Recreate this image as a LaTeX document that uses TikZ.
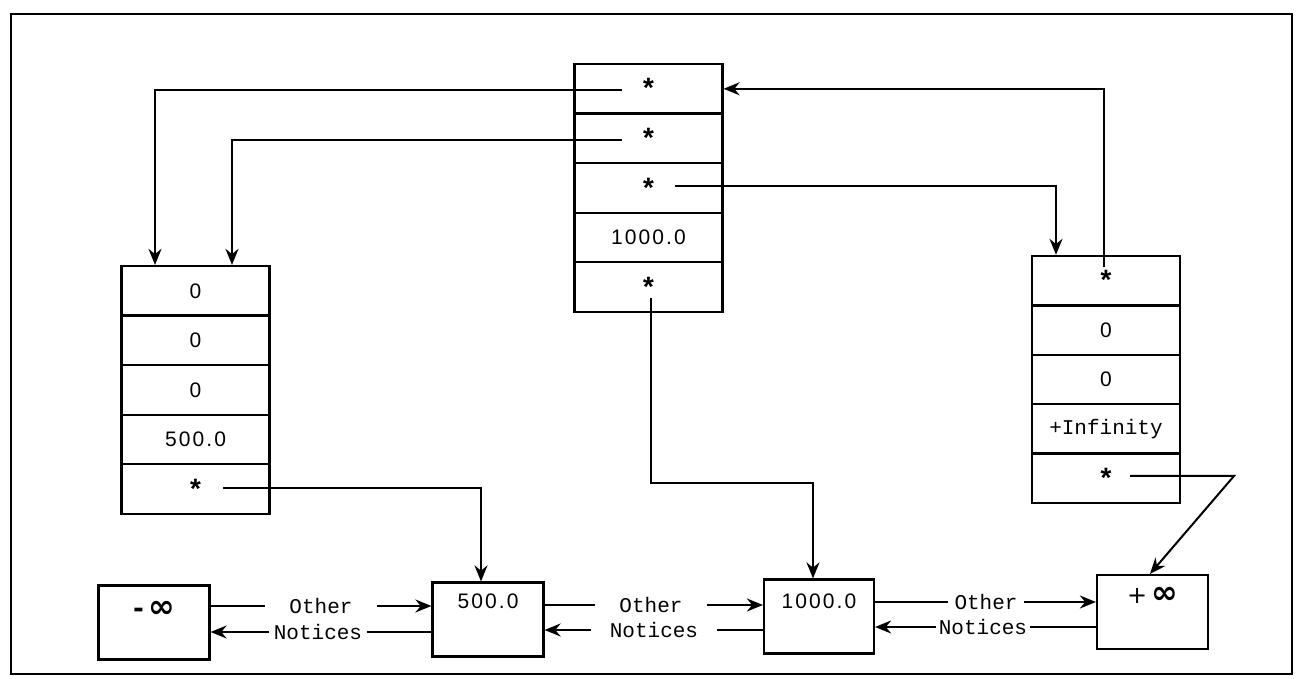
\documentclass[tikz,border=0pt]{standalone}
\usepackage{fontspec}
\usetikzlibrary{arrows.meta,calc}
\newfontfamily\tw{Liberation Mono}
\newfontfamily\nm[LetterSpace=10]{Liberation Sans}
\newfontfamily\djv{DejaVu Sans}
\begin{document}
\begin{tikzpicture}[x=0.5pt,y=-0.5pt,
  cell/.style={draw, line width=1.1pt, minimum width=74pt, minimum height=24.8pt, inner sep=0pt, font=\nm\fontsize{10.5}{12}\selectfont},
  star/.style={cell, font=\tw\bfseries\fontsize{14}{14}\selectfont},
  wcell/.style={cell, font=\tw\fontsize{10.5}{12}\selectfont},
  bbox/.style={draw, line width=1.1pt, inner sep=0pt, minimum width=55.5pt, minimum height=37pt},
  blab/.style={anchor=center, font=\nm\fontsize{10.5}{12}\selectfont},
  arr/.style={-{Stealth[length=8pt,width=6.5pt]}, line width=1pt},
  ln/.style={line width=1pt},
  lbl/.style={font=\tw\fontsize{10.5}{12}\selectfont, inner ysep=0pt}
]
\useasboundingbox (0,0) rectangle (1298,679);
\draw[line width=1.2pt] (11,14) rectangle (1292,674);

% top record
\node[star] (T1) at (648.5,88.8) {*};
\node[star] (T2) at (648.5,138.4) {*};
\node[star] (T3) at (648.5,188) {*};
\node[cell] (T4) at (648.5,237.6) {1000.0};
\node[star] (T5) at (648.5,287.2) {*};

% left record
\node[cell] (L1) at (195.5,290.8) {0};
\node[cell] (L2) at (195.5,340.4) {0};
\node[cell] (L3) at (195.5,390) {0};
\node[cell] (L4) at (195.5,439.6) {500.0};
\node[star] (L5) at (195.5,489.2) {*};

% right record
\node[star] (R1) at (1106,280.7) {*};
\node[cell] (R2) at (1106,330.1) {0};
\node[cell] (R3) at (1106,379.5) {0};
\node[wcell] (R4) at (1106,428.9) {+Infinity};
\node[star] (R5) at (1106,478.3) {*};

% bottom list
\node[bbox, label={[blab,yshift=-12.5pt]north:{{\djv\bfseries\fontsize{13}{14}\selectfont -\,}{\djv\bfseries\fontsize{16}{16}\selectfont ∞}}}] (Km) at (154,622.5) {};
\node[bbox, label={[blab,yshift=-10pt]north:{500.0}}] (K500) at (488,619.5) {};
\node[bbox, minimum width=55pt, label={[blab,yshift=-11.5pt]north:{1000.0}}] (K1000) at (819,616.5) {};
\node[bbox, label={[blab,yshift=-11pt]north:{{\djv\fontsize{12}{12}\selectfont +\,}{\djv\bfseries\fontsize{16}{16}\selectfont ∞}}}] (Kp) at (1152.5,612) {};

% pointer start points
\coordinate (t1s) at (622,90);
\coordinate (t2s) at (622,140);
\coordinate (t3s) at (675,186);
\coordinate (t5s) at (651,298);
\coordinate (bend1) at (651,483);
\coordinate (l5s) at (223,488);
\coordinate (r1s) at (1104,267);
\coordinate (r5s) at (1130,476);
\coordinate (bend2) at (1234,476);

\draw[arr] (t1s) -| ([xshift=-20.25pt]L1.north);
\draw[arr] (t2s) -| ([xshift=18.25pt]L1.north);
\draw[arr] (t3s) -| ([xshift=-25pt]R1.north);
\draw[arr] (r1s) |- (T1.east);
\draw[arr] (t5s) -- (bend1) -| ([xshift=-3pt]K1000.north);
\draw[arr] (l5s) -| ([xshift=-3.5pt]K500.north);
\draw[arr] (r5s) -- (bend2) -- ([xshift=-1.25pt]Kp.north);

% Other / Notices links
\node[lbl, inner xsep=12pt] (o1) at (321,606) {Other};
\node[lbl, inner xsep=2pt] (n1) at (318,632) {Notices};
\node[lbl, inner xsep=12pt] (o2) at (651,605) {Other};
\node[lbl, inner xsep=9pt] (n2) at (654,630) {Notices};
\node[lbl, inner xsep=3pt] (o3) at (986,602) {Other};
\node[lbl, inner xsep=1pt] (n3) at (983,627) {Notices};

\draw[ln] (Km.east |- o1) -- (o1.west);
\draw[arr] (o1.east) -- (K500.west |- o1);
\draw[arr] (n1.west) -- (Km.east |- n1);
\draw[ln] (n1.east) -- (K500.west |- n1);

\draw[ln] (K500.east |- o2) -- (o2.west);
\draw[arr] (o2.east) -- (K1000.west |- o2);
\draw[arr] (n2.west) -- (K500.east |- n2);
\draw[ln] (n2.east) -- (K1000.west |- n2);

\draw[ln] (K1000.east |- o3) -- (o3.west);
\draw[arr] (o3.east) -- (Kp.west |- o3);
\draw[arr] (n3.west) -- (K1000.east |- n3);
\draw[ln] (n3.east) -- (Kp.west |- n3);
\end{tikzpicture}
\end{document}
